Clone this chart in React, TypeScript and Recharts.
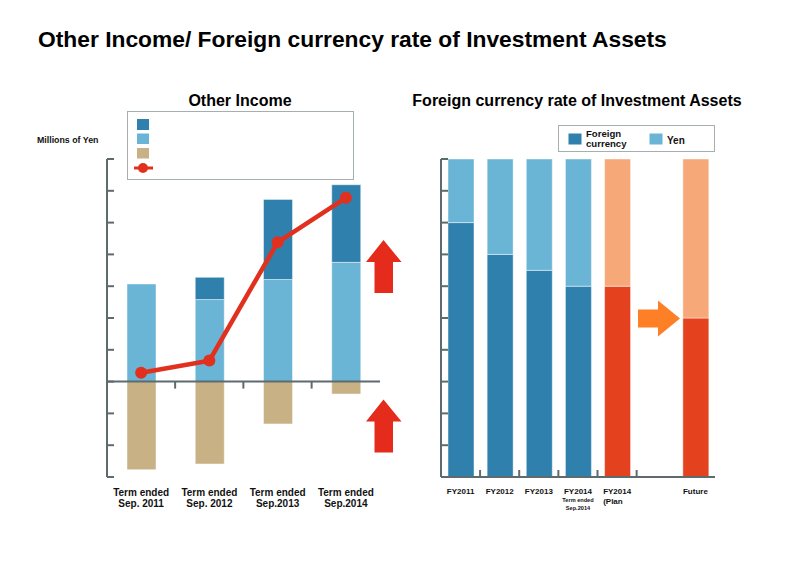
import React from 'react';
import { ComposedChart, BarChart, Bar, Line, XAxis, YAxis, ReferenceLine, Cell } from 'recharts';

// ---------- Other Income (left panel) ----------
const periods = ['2011', '2012', '2013', '2014'];
const periodLabels = [
  ['Term ended', 'Sep. 2011'],
  ['Term ended', 'Sep. 2012'],
  ['Term ended', 'Sep.2013'],
  ['Term ended', 'Sep.2014'],
];
const interestIncome = [307, 258, 321, 375];
const fxGain = [0, 70, 252, 244];
const otherLoss = [-277, -259, -133, -39];
const netOtherIncome = [28, 66, 438, 578];
const incomeTicks = [-300, -200, -100, 0, 100, 200, 300, 400, 500, 600, 700];

// ---------- Foreign currency rate (right panel) ----------
const fiscalYears = ['FY2011', 'FY2012', 'FY2013', 'FY2014', 'FY2014 Plan', 'gap', 'Future'];
const fiscalLabels = [['FY2011'], ['FY2012'], ['FY2013'], ['FY2014'], ['FY2014', '(Plan'], [], ['Future']];
const fiscalNotes = [[], [], [], ['Term ended', 'Sep.2014'], [], [], []];
const foreignShare = [80, 70, 65, 60, 60, null, 50];
const yenShare = [20, 30, 35, 40, 40, null, 50];
const isProjection = [false, false, false, false, true, false, true];
const shareTicks = [0, 10, 20, 30, 40, 50, 60, 70, 80, 90, 100];

const incomeData = periods.map((p, i) => ({
  period: p,
  interest: interestIncome[i],
  fx: fxGain[i],
  loss: otherLoss[i],
  net: netOtherIncome[i],
}));

const shareData = fiscalYears.map((fy, i) => ({
  fy,
  foreign: foreignShare[i],
  yen: yenShare[i],
}));

const FONT = '"Liberation Sans", Arial, Helvetica, sans-serif';
const AXIS = '#5e6b6e';
const DARK_BLUE = '#2f80ac';
const LIGHT_BLUE = '#6ab4d6';
const TAN = '#c8b185';
const LINE_RED = '#e2301f';
const ARROW_RED = '#e52b1b';
const PLAN_RED = '#e4421f';
const PLAN_LIGHT = '#f7a878';
const ARROW_ORANGE = '#fd7f26';
const EDGE = 'rgba(255,255,255,0.45)';

// shared panel geometry
const PANEL_W = 400;
const PANEL_H = 565;
const PLOT_TOP = 159;
const PLOT_BOTTOM_MARGIN = 58;
const X_AXIS_H = 30;
const Y_AXIS_W = 1;
const PLOT_H = PANEL_H - PLOT_TOP - PLOT_BOTTOM_MARGIN - X_AXIS_H;

const L_PLOT_LEFT = 108;
const L_MARGIN = { top: PLOT_TOP, left: L_PLOT_LEFT - Y_AXIS_W, right: 20, bottom: PLOT_BOTTOM_MARGIN };
const incomeDomain = [incomeTicks[0], incomeTicks[incomeTicks.length - 1]];
const zeroY = PLOT_TOP + (PLOT_H * incomeDomain[1]) / (incomeDomain[1] - incomeDomain[0]);
const leftBand = (PANEL_W - L_PLOT_LEFT - L_MARGIN.right) / periods.length;

const R_PLOT_LEFT = 42;
const R_MARGIN = { top: PLOT_TOP, left: R_PLOT_LEFT - Y_AXIS_W, right: 85, bottom: PLOT_BOTTOM_MARGIN };
const rightBand = (PANEL_W - R_PLOT_LEFT - R_MARGIN.right) / fiscalYears.length;

const NoLabel = () => <g />;

const IncomeTick = (props: any) => {
  const { x, y, index } = props;
  const lines = periodLabels[index] || [];
  return (
    <g>
      {index < periods.length - 1 && (
        <line x1={x + leftBand / 2} x2={x + leftBand / 2} y1={zeroY} y2={zeroY + 7} stroke={AXIS} strokeWidth={2} />
      )}
      <text textAnchor="middle" fontFamily={FONT} fontWeight="bold" fontSize={10} fill="#111">
        {lines.map((t, i) => (
          <tspan key={i} x={x} y={y + 19 + i * 11}>
            {t}
          </tspan>
        ))}
      </text>
    </g>
  );
};

const ShareTick = (props: any) => {
  const { x, y, index } = props;
  const lines = fiscalLabels[index] || [];
  const notes = fiscalNotes[index] || [];
  const twoLine = lines.length > 1;
  return (
    <g>
      {index < 5 && (
        <line x1={x + rightBand / 2} x2={x + rightBand / 2} y1={y} y2={y - 7} stroke={AXIS} strokeWidth={2} />
      )}
      {lines.map((t, i) => (
        <text
          key={i}
          x={twoLine ? x - 14 : x}
          y={y + 17 + i * 9.5}
          textAnchor={twoLine ? 'start' : 'middle'}
          fontFamily={FONT}
          fontWeight="bold"
          fontSize={8}
          fill="#111"
        >
          {t}
        </text>
      ))}
      {notes.map((t, i) => (
        <text
          key={'n' + i}
          x={x}
          y={y + 24.5 + i * 8}
          textAnchor="middle"
          fontFamily={FONT}
          fontWeight="bold"
          fontSize={5.6}
          fill="#111"
        >
          {t}
        </text>
      ))}
    </g>
  );
};

const axisStyle = { stroke: AXIS, strokeWidth: 2 };

function OtherIncomeChart() {
  return (
    <ComposedChart
      width={PANEL_W}
      height={PANEL_H}
      data={incomeData}
      margin={L_MARGIN}
      stackOffset="sign"
      barSize={29}
    >
      <XAxis
        dataKey="period"
        height={X_AXIS_H}
        axisLine={false}
        tickLine={false}
        tickSize={0}
        tickMargin={0}
        interval={0}
        tick={IncomeTick}
      />
      <YAxis
        domain={incomeDomain}
        ticks={incomeTicks}
        interval={0}
        width={Y_AXIS_W}
        mirror
        tickSize={7}
        tick={NoLabel}
        axisLine={axisStyle}
        tickLine={axisStyle}
        allowDataOverflow
      />
      <Bar dataKey="interest" stackId="inc" fill={LIGHT_BLUE} stroke={EDGE} strokeWidth={1} isAnimationActive={false} />
      <Bar dataKey="fx" stackId="inc" fill={DARK_BLUE} stroke={EDGE} strokeWidth={1} isAnimationActive={false} />
      <Bar dataKey="loss" stackId="inc" fill={TAN} stroke={EDGE} strokeWidth={1} isAnimationActive={false} />
      <ReferenceLine y={0} stroke={AXIS} strokeWidth={2} />
      <Line
        dataKey="net"
        stroke={LINE_RED}
        strokeWidth={4.5}
        dot={{ r: 6, fill: LINE_RED, stroke: LINE_RED, strokeWidth: 0 }}
        activeDot={false}
        isAnimationActive={false}
      />
    </ComposedChart>
  );
}

function CurrencyRateChart() {
  return (
    <BarChart width={PANEL_W} height={PANEL_H} data={shareData} margin={R_MARGIN} barSize={26}>
      <XAxis
        dataKey="fy"
        height={X_AXIS_H}
        axisLine={axisStyle}
        tickLine={false}
        tickSize={0}
        tickMargin={0}
        interval={0}
        tick={ShareTick}
      />
      <YAxis
        domain={[0, 100]}
        ticks={shareTicks}
        interval={0}
        width={Y_AXIS_W}
        mirror
        tickSize={7}
        tick={NoLabel}
        axisLine={axisStyle}
        tickLine={axisStyle}
      />
      <Bar dataKey="foreign" stackId="share" stroke={EDGE} strokeWidth={1} isAnimationActive={false}>
        {shareData.map((d, i) => (
          <Cell key={d.fy} fill={isProjection[i] ? PLAN_RED : DARK_BLUE} />
        ))}
      </Bar>
      <Bar dataKey="yen" stackId="share" stroke={EDGE} strokeWidth={1} isAnimationActive={false}>
        {shareData.map((d, i) => (
          <Cell key={d.fy} fill={isProjection[i] ? PLAN_LIGHT : LIGHT_BLUE} />
        ))}
      </Bar>
    </BarChart>
  );
}

const upArrow = (x: number, y: number) =>
  `${x},${y + 22} ${x + 17.5},${y} ${x + 35.5},${y + 22} ${x + 27},${y + 22} ${x + 27},${y + 53} ${x + 8.5},${y + 53} ${x + 8.5},${y + 22}`;

function Annotations() {
  return (
    <svg width={800} height={565} style={{ position: 'absolute', left: 0, top: 0, pointerEvents: 'none' }}>
      <g fontFamily={FONT} fontWeight="bold" fill="#000">
        <text x={38} y={47} fontSize={22.8}>
          Other Income/ Foreign currency rate of Investment Assets
        </text>
        <text x={240} y={106} fontSize={16} textAnchor="middle">
          Other Income
        </text>
        <text x={577} y={106} fontSize={16} textAnchor="middle">
          Foreign currency rate of Investment Assets
        </text>
        <text x={37} y={143} fontSize={8.8} fill="#111">
          Millions of Yen
        </text>
      </g>

      {/* Other Income legend */}
      <rect x={127.5} y={111.5} width={226} height={68} fill="#fff" stroke="#a5afb0" strokeWidth={1} />
      <rect x={137} y={119} width={12} height={11} fill={DARK_BLUE} />
      <rect x={137} y={133.5} width={12} height={10.5} fill={LIGHT_BLUE} />
      <rect x={137} y={148} width={12} height={10.5} fill={TAN} />
      <line x1={134} x2={153} y1={168} y2={168} stroke={LINE_RED} strokeWidth={3} />
      <circle cx={143} cy={168} r={5} fill={LINE_RED} />

      {/* Currency legend */}
      <rect x={558.5} y={125.5} width={156} height={26} fill="#fff" stroke="#a5afb0" strokeWidth={1} />
      <rect x={568.5} y={133.5} width={13} height={11} fill={DARK_BLUE} />
      <rect x={649.5} y={133.5} width={13} height={11} fill={LIGHT_BLUE} />
      <g fontFamily={FONT} fontWeight="bold" fontSize={9.6} fill="#111">
        <text x={586} y={136.6}>Foreign</text>
        <text x={586} y={147}>currency</text>
        <text x={667} y={143.5} fontSize={10}>Yen</text>
      </g>

      {/* trend arrows */}
      <polygon points={upArrow(366, 240)} fill={ARROW_RED} />
      <polygon points={upArrow(366, 399.5)} fill={ARROW_RED} />
      <polygon points="638,309.5 658,309.5 658,300.5 680,318.5 658,336.5 658,327.5 638,327.5" fill={ARROW_ORANGE} />
    </svg>
  );
}

export default function App() {
  return (
    <div
      style={{
        position: 'absolute',
        left: 0,
        top: 0,
        width: 800,
        height: 565,
        background: '#fff',
        overflow: 'hidden',
        fontFamily: FONT,
      }}
    >
      <div style={{ position: 'absolute', left: 0, top: 0 }}>
        <OtherIncomeChart />
      </div>
      <div style={{ position: 'absolute', left: 400, top: 0 }}>
        <CurrencyRateChart />
      </div>
      <Annotations />
    </div>
  );
}
